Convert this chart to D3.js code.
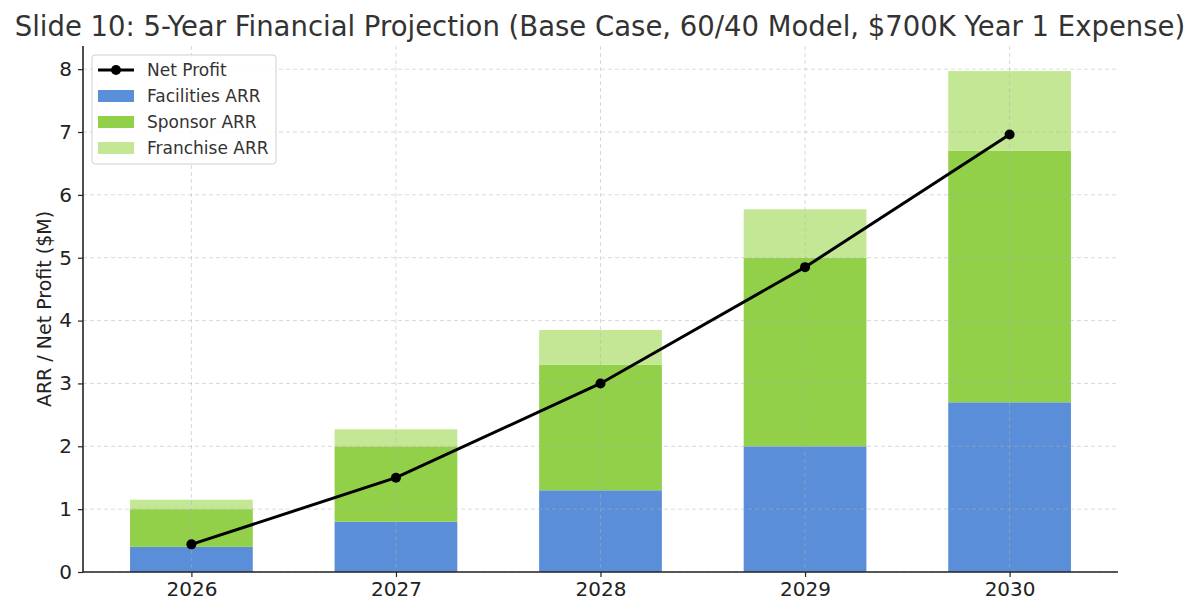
<!DOCTYPE html>
<html>
<head>
<meta charset="utf-8">
<script src="https://cdn.jsdelivr.net/npm/d3@7"></script>
<style>
  body { margin: 0; background: #fff; }
  svg { font-family: "DejaVu Sans", sans-serif; }
</style>
</head>
<body>
<div id="chart"></div>
<script>
const width = 1200;
const height = 607;

// data ($M)
const years = ["2026", "2027", "2028", "2029", "2030"];
const facilities = [0.4, 0.8, 1.3, 2.0, 2.7];
const sponsor = [0.6, 1.2, 2.0, 3.0, 4.0];
const franchise = [0.15, 0.27, 0.55, 0.77, 1.27];
const netProfit = [0.44, 1.5, 3.0, 4.85, 6.96];
const yTicks = [0, 1, 2, 3, 4, 5, 6, 7, 8];

const seriesNames = ["Facilities ARR", "Sponsor ARR", "Franchise ARR"];
const colors = ["#5b8ed9", "#92d04a", "#c4e795"];

const margin = { top: 46, right: 82, bottom: 35, left: 83 };
const innerW = width - margin.left - margin.right;
const innerH = height - margin.top - margin.bottom;

const table = years.map(function(y, i) {
  return { year: y, "Facilities ARR": facilities[i], "Sponsor ARR": sponsor[i], "Franchise ARR": franchise[i] };
});
const stacked = d3.stack().keys(seriesNames)(table);
const maxTotal = d3.max(table, function(d) {
  return d["Facilities ARR"] + d["Sponsor ARR"] + d["Franchise ARR"];
});

// category positions like matplotlib: bar width 0.6, 5% margins
const x = d3.scaleLinear()
  .domain([-0.3 - 0.23, years.length - 1 + 0.3 + 0.23])
  .range([0, innerW]);
const barW = x(0.6) - x(0);

const y = d3.scaleLinear()
  .domain([0, maxTotal * 1.05])
  .range([innerH, 0]);

const svg = d3.select("#chart")
  .append("svg")
  .attr("width", width)
  .attr("height", height);

svg.append("text")
  .attr("x", width / 2)
  .attr("y", 36)
  .attr("text-anchor", "middle")
  .attr("fill", "#333")
  .style("font-size", "27.5px")
  .text("Slide 10: 5-Year Financial Projection (Base Case, 60/40 Model, $700K Year 1 Expense)");

const g = svg.append("g")
  .attr("transform", "translate(" + margin.left + "," + margin.top + ")");

// bars
g.selectAll("g.layer")
  .data(stacked)
  .enter()
  .append("g")
  .attr("class", "layer")
  .attr("fill", function(d, i) { return colors[i]; })
  .selectAll("rect")
  .data(function(d) { return d; })
  .enter()
  .append("rect")
  .attr("x", function(d, i) { return x(i) - barW / 2; })
  .attr("y", function(d) { return y(d[1]); })
  .attr("width", barW)
  .attr("height", function(d) { return y(d[0]) - y(d[1]); });

// grid (drawn above bars, faint)
const grid = g.append("g")
  .attr("stroke", "#b0b0b0")
  .attr("stroke-opacity", 0.6)
  .attr("stroke-dasharray", "4,3")
  .attr("stroke-width", 0.8);
grid.selectAll("line.h")
  .data(yTicks)
  .enter()
  .append("line")
  .attr("x1", 0)
  .attr("x2", innerW)
  .attr("y1", function(d) { return y(d); })
  .attr("y2", function(d) { return y(d); });
grid.selectAll("line.v")
  .data(years)
  .enter()
  .append("line")
  .attr("y1", 0)
  .attr("y2", innerH)
  .attr("x1", function(d, i) { return x(i); })
  .attr("x2", function(d, i) { return x(i); });

// net profit line
const line = d3.line()
  .x(function(d, i) { return x(i); })
  .y(function(d) { return y(d); });
g.append("path")
  .datum(netProfit)
  .attr("fill", "none")
  .attr("stroke", "#000")
  .attr("stroke-width", 3)
  .attr("d", line);
g.selectAll("circle.pt")
  .data(netProfit)
  .enter()
  .append("circle")
  .attr("cx", function(d, i) { return x(i); })
  .attr("cy", function(d) { return y(d); })
  .attr("r", 5)
  .attr("fill", "#000");

// axes
const yAxis = g.append("g")
  .call(d3.axisLeft(y).tickValues(yTicks).tickFormat(d3.format("d")).tickSize(5).tickPadding(6));
const xAxis = g.append("g")
  .attr("transform", "translate(0," + innerH + ")")
  .call(d3.axisBottom(x).tickValues(d3.range(years.length))
    .tickFormat(function(i) { return years[i]; }).tickSize(5).tickPadding(5));
[yAxis, xAxis].forEach(function(a) {
  a.select(".domain").attr("stroke", "#222").attr("stroke-width", 1.6);
  a.selectAll(".tick line").attr("stroke", "#222").attr("stroke-width", 1.2);
  a.selectAll(".tick text")
    .attr("fill", "#222")
    .style("font-family", "DejaVu Sans, sans-serif")
    .style("font-size", "20px");
});
xAxis.select(".domain").attr("d", "M0,0H" + innerW);
yAxis.select(".domain").attr("d", "M0,0V" + innerH);

svg.append("text")
  .attr("transform", "translate(51," + (margin.top + innerH / 2) + ") rotate(-90)")
  .attr("text-anchor", "middle")
  .attr("fill", "#222")
  .style("font-size", "19px")
  .text("ARR / Net Profit ($M)");

// legend
const legend = g.append("g").attr("transform", "translate(9,9)");
legend.append("rect")
  .attr("width", 184)
  .attr("height", 109)
  .attr("rx", 3)
  .attr("fill", "#fff")
  .attr("fill-opacity", 0.85)
  .attr("stroke", "#d0d0d0");
const legendItems = ["Net Profit"].concat(seriesNames);
const item = legend.selectAll("g.item")
  .data(legendItems)
  .enter()
  .append("g")
  .attr("transform", function(d, i) { return "translate(0," + (15 + i * 26) + ")"; });
item.each(function(d, i) {
  const sel = d3.select(this);
  if (i === 0) {
    sel.append("line")
      .attr("x1", 6).attr("x2", 42).attr("y1", 0).attr("y2", 0)
      .attr("stroke", "#000").attr("stroke-width", 3);
    sel.append("circle").attr("cx", 24).attr("cy", 0).attr("r", 5).attr("fill", "#000");
  } else {
    sel.append("rect")
      .attr("x", 6).attr("y", -6).attr("width", 36).attr("height", 12)
      .attr("fill", colors[i - 1]);
  }
  sel.append("text")
    .attr("x", 55)
    .attr("y", 6)
    .attr("fill", "#333")
    .style("font-size", "17px")
    .text(d);
});
</script>
</body>
</html>
